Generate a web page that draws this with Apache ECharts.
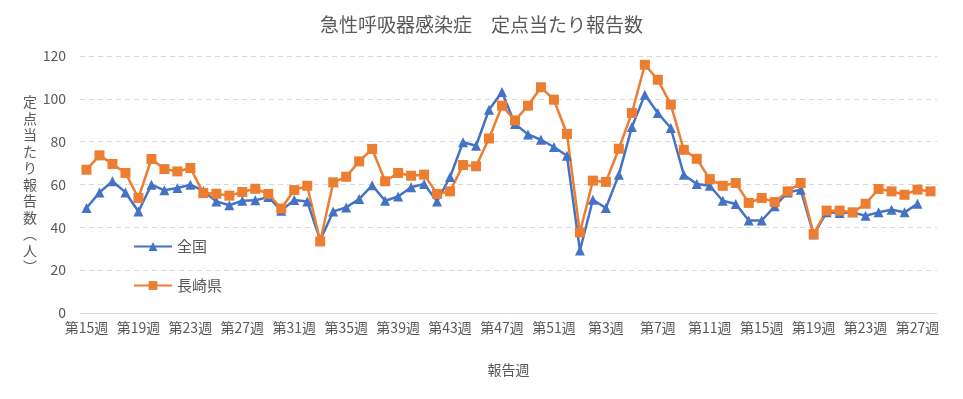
<!DOCTYPE html>
<html><head><meta charset="utf-8">
<script src="https://cdn.jsdelivr.net/npm/echarts@6/dist/echarts.min.js"></script>
<style>html,body{margin:0;padding:0;background:#fff}#c{width:963px;height:399px}</style>
</head><body><div id="c"></div>
<script>
const weeks = [];
for (let w = 15; w <= 52; w++) weeks.push('第' + w + '週');
for (let w = 1; w <= 28; w++) weeks.push('第' + w + '週');
const national = [49.0,56.3,61.5,56.3,47.4,59.9,57.3,58.4,59.9,57.0,52.1,50.3,52.4,52.6,54.2,47.8,52.8,52.1,34.0,47.4,49.3,53.2,59.6,52.4,54.4,58.7,60.2,52.1,63.5,79.7,78.1,94.9,103.2,88.2,83.4,80.9,77.5,73.4,29.2,52.9,49.0,64.6,86.8,101.9,93.4,86.4,64.6,60.2,59.4,52.4,50.9,43.2,43.2,49.8,56.3,57.6,36.6,47.0,46.7,47.0,45.4,47.0,48.2,47.0,51.0,null];
const nagasaki = [66.9,73.6,69.6,65.4,53.7,71.9,67.2,66.1,67.7,56.0,55.7,54.8,56.5,58.0,55.6,48.8,57.4,59.4,33.4,61.0,63.6,70.8,76.6,61.5,65.4,64.1,64.6,55.6,56.8,69.1,68.5,81.5,96.8,89.9,96.8,105.4,99.6,83.6,37.6,61.8,61.2,76.7,93.4,115.9,108.9,97.3,76.2,72.0,62.5,59.4,60.7,51.4,53.7,51.8,56.8,60.7,36.9,47.8,47.8,47.0,51.0,57.9,56.8,55.2,57.6,56.8];
const yTicks = [0,20,40,60,80,100,120];
const yName = '定点当たり報告数︵人︶';

const font = '"Noto Sans CJK JP", sans-serif';
const chart = echarts.init(document.getElementById('c'), null, {renderer:'canvas'});
chart.setOption({
  animation:false,
  backgroundColor:'#fff',
  title:{text:'急性呼吸器感染症　定点当たり報告数', left:'center', top:10,
    textStyle:{fontFamily:font, fontSize:19, fontWeight:'normal', color:'#595959'}},
  grid:{left:80, right:26, top:56, bottom:86},
  legend:{orient:'vertical', left:128, top:234, itemGap:24, itemWidth:38, itemHeight:11,
    textStyle:{fontFamily:font, fontSize:15, color:'#595959'},
    data:['全国','長崎県']},
  xAxis:{type:'category', data:weeks, boundaryGap:true,
    name:'報告週', nameLocation:'middle', nameGap:50,
    nameTextStyle:{fontFamily:font, fontSize:14, color:'#595959'},
    axisLine:{lineStyle:{color:'#d9d9d9'}}, axisTick:{show:false},
    axisLabel:{interval:3, fontFamily:font, fontSize:14, color:'#595959', margin:8}},
  yAxis:{type:'value', min:yTicks[0], max:yTicks[yTicks.length-1], interval:20,
    name:yName.split('').join('\n'), nameLocation:'middle', nameGap:50, nameRotate:0,
    nameMoveOverlap:false,
    nameTextStyle:{fontFamily:font, fontSize:14, color:'#595959', lineHeight:16.5, align:'center', padding:[0,0,12,0]},
    axisLine:{show:false}, axisTick:{show:false},
    axisLabel:{fontFamily:font, fontSize:14, color:'#595959', margin:14},
    splitLine:{lineStyle:{color:'#d9d9d9', type:[5,4]}}},
  series:[
    {name:'全国', type:'line', data:national, symbol:'triangle', symbolSize:10, showAllSymbol:true,
      itemStyle:{color:'#4472C4'}, lineStyle:{color:'#4472C4', width:2.5}},
    {name:'長崎県', type:'line', data:nagasaki, symbol:'rect', symbolSize:10, showAllSymbol:true,
      itemStyle:{color:'#ED7D31'}, lineStyle:{color:'#ED7D31', width:2.5}}
  ]
});
</script></body></html>
